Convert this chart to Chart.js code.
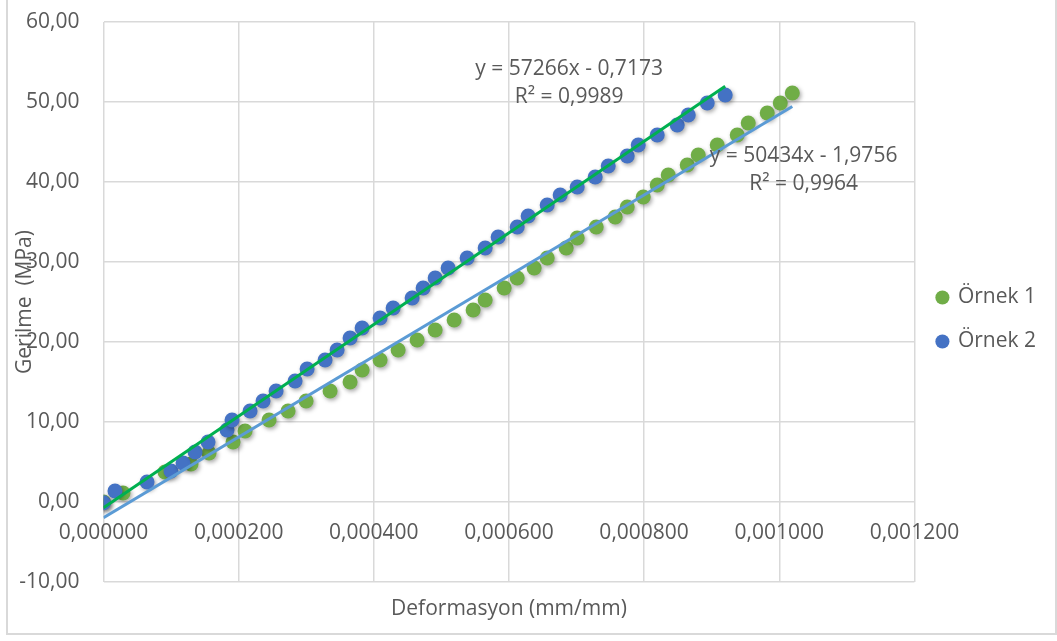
<!DOCTYPE html>
<html lang="tr">
<head>
<meta charset="utf-8">
<title>Gerilme - Deformasyon</title>
<script src="https://cdn.jsdelivr.net/npm/chart.js@4.4.1/dist/chart.umd.min.js"></script>
<style>
  html, body { margin: 0; padding: 0; background: #fff; }
  #wrap { position: relative; width: 1057px; height: 641px; overflow: hidden; }
  #frame { position: absolute; left: 6px; top: -2px; width: 1051px; height: 637px; border: 2px solid #d9d9d9; box-sizing: border-box; pointer-events: none; }
  canvas { position: absolute; left: 0; top: 0; }
</style>
</head>
<body>
<div id="wrap">
  <canvas id="stressChart" width="1057" height="641"></canvas>
  <div id="frame"></div>
</div>
<script>
// Örnek 1 (green markers)
const ornek1Strain = [0, 0.0000289, 0.0000910, 0.0001295, 0.0001562, 0.0001917, 0.0002095, 0.0002450,
    0.0002731, 0.0002998, 0.0003353, 0.0003649, 0.0003827, 0.0004093, 0.0004360, 0.0004641, 0.0004908,
    0.0005189, 0.0005470, 0.0005648, 0.0005929, 0.0006122, 0.0006373, 0.0006566, 0.0006847, 0.0007010,
    0.0007291, 0.0007572, 0.0007750, 0.0007987, 0.0008194, 0.0008357, 0.0008638, 0.0008801, 0.0009082,
    0.0009378, 0.0009541, 0.0009822, 0.0010015, 0.0010193];
const ornek1Stress = [0, 1.13, 3.75, 4.75, 6.13, 7.50, 8.88, 10.25,
    11.38, 12.63, 13.88, 15.00, 16.50, 17.75, 19.00, 20.25, 21.50,
    22.75, 24.00, 25.25, 26.75, 28.00, 29.25, 30.50, 31.75, 33.00,
    34.38, 35.63, 36.88, 38.13, 39.63, 40.88, 42.13, 43.38, 44.63,
    45.88, 47.38, 48.63, 49.88, 51.13];

// Örnek 2 (blue markers)
const ornek2Strain = [0, 0.0000170, 0.0000644, 0.0000999, 0.0001177, 0.0001355, 0.0001547, 0.0001828,
    0.0001902, 0.0002169, 0.0002361, 0.0002554, 0.0002835, 0.0003013, 0.0003279, 0.0003457, 0.0003649,
    0.0003827, 0.0004093, 0.0004286, 0.0004567, 0.0004730, 0.0004908, 0.0005100, 0.0005381, 0.0005648,
    0.0005840, 0.0006122, 0.0006284, 0.0006566, 0.0006758, 0.0007010, 0.0007276, 0.0007469, 0.0007750,
    0.0007913, 0.0008194, 0.0008490, 0.0008653, 0.0008934, 0.0009200];
const ornek2Stress = [-0.1, 1.38, 2.50, 3.88, 4.88, 6.25, 7.50, 9.00,
    10.25, 11.38, 12.63, 13.88, 15.13, 16.63, 17.75, 19.00, 20.50,
    21.75, 23.00, 24.25, 25.50, 26.75, 28.00, 29.25, 30.50, 31.75,
    33.13, 34.38, 35.75, 37.13, 38.38, 39.38, 40.63, 42.00, 43.25,
    44.63, 45.88, 47.13, 48.38, 49.88, 50.88];

const seriesNames = ['Örnek 1', 'Örnek 2'];

// linear trendlines as printed on the chart
const trendSlopes = [50434, 57266];
const trendIntercepts = [-1.9756, -0.7173];
const trendEquations = ['y = 50434x - 1,9756', 'y = 57266x - 0,7173'];
const trendR2 = ['R² = 0,9964', 'R² = 0,9989'];

const xTickValues = [0, 0.0002, 0.0004, 0.0006, 0.0008, 0.0010, 0.0012];
const xTickLabels = ['0,000000', '0,000200', '0,000400', '0,000600', '0,000800', '0,001000', '0,001200'];
const yTickValues = [-10, 0, 10, 20, 30, 40, 50, 60];
const yTickLabels = ['-10,00', '0,00', '10,00', '20,00', '30,00', '40,00', '50,00', '60,00'];

const xTitle = 'Deformasyon (mm/mm)';
const yTitle = 'Gerilme  (MPa)';

const fontFamily = '"Open Sans", "Noto Sans", sans-serif';
const textColor = '#595959';
const gridColor = '#d9d9d9';
const markerColors = ['#70ad47', '#4472c4'];
const trendColors = ['#5b9bd5', '#00b050'];

// where the equation boxes sit, in data units (centre of first line)
const trendLabelAnchors = [{ x: 0.001036, y: 43.25 }, { x: 0.000689, y: 54.1 }];

const toPoints = (xs, ys) => xs.map((x, i) => ({ x, y: ys[i] }));

function trendPoints(k, xs) {
    const xEnd = Math.max(...xs);
    return [
        { x: 0, y: trendIntercepts[k] },
        { x: xEnd, y: trendSlopes[k] * xEnd + trendIntercepts[k] }
    ];
}

// soft drop shadow under the markers, like the Excel original
const markerShadow = {
    id: 'markerShadow',
    beforeDatasetDraw(chart, args) {
        if (!chart.data.datasets[args.index].shadow) return;
        const ctx = chart.ctx;
        ctx.save();
        ctx.shadowColor = 'rgba(0, 0, 0, 0.35)';
        ctx.shadowBlur = 4;
        ctx.shadowOffsetX = 1.5;
        ctx.shadowOffsetY = 2;
    },
    afterDatasetDraw(chart, args) {
        if (chart.data.datasets[args.index].shadow) chart.ctx.restore();
    }
};

// x labels sit under the zero line, y title overlaps the tick labels, equation labels
const excelText = {
    id: 'excelText',
    afterDraw(chart) {
        const { ctx, chartArea, scales: { x, y } } = chart;
        ctx.save();
        ctx.fillStyle = textColor;
        ctx.font = '21px ' + fontFamily;
        ctx.textAlign = 'center';
        ctx.textBaseline = 'middle';

        const y0 = y.getPixelForValue(0);
        xTickValues.forEach((v, i) => {
            ctx.fillText(xTickLabels[i], x.getPixelForValue(v), y0 + 31);
        });

        trendLabelAnchors.forEach((a, k) => {
            const px = x.getPixelForValue(a.x);
            const py = y.getPixelForValue(a.y);
            ctx.fillText(trendEquations[k], px, py);
            ctx.fillText(trendR2[k], px, py + 28);
        });

        ctx.translate(25, (chartArea.top + chartArea.bottom) / 2);
        ctx.rotate(-Math.PI / 2);
        ctx.fillText(yTitle, 0, 0);
        ctx.restore();
    }
};

const ctx = document.getElementById('stressChart').getContext('2d');
const stressChart = new Chart(ctx, {
    type: 'scatter',
    data: {
        datasets: [
            {
                label: seriesNames[0],
                data: toPoints(ornek1Strain, ornek1Stress),
                backgroundColor: markerColors[0],
                borderColor: markerColors[0],
                borderWidth: 0,
                pointRadius: 7.5,
                shadow: true,
                order: 4
            },
            {
                label: seriesNames[1],
                data: toPoints(ornek2Strain, ornek2Stress),
                backgroundColor: markerColors[1],
                borderColor: markerColors[1],
                borderWidth: 0,
                pointRadius: 7.5,
                shadow: true,
                order: 3
            },
            {
                label: 'trend1',
                type: 'line',
                data: trendPoints(0, ornek1Strain),
                borderColor: trendColors[0],
                borderWidth: 3,
                pointRadius: 0,
                fill: false,
                order: 2
            },
            {
                label: 'trend2',
                type: 'line',
                data: trendPoints(1, ornek2Strain),
                borderColor: trendColors[1],
                borderWidth: 3,
                pointRadius: 0,
                fill: false,
                order: 1
            }
        ]
    },
    options: {
        responsive: false,
        animation: false,
        events: [],
        layout: { padding: { left: 7, top: 7, right: 11, bottom: 9 } },
        scales: {
            x: {
                type: 'linear',
                min: 0,
                max: 0.0012,
                afterBuildTicks: scale => { scale.ticks = xTickValues.map(v => ({ value: v })); },
                afterFit: scale => { scale.height = 50; },
                ticks: { display: false },
                grid: { color: gridColor, lineWidth: 1.5, drawTicks: false },
                border: { display: false },
                title: {
                    display: true,
                    text: xTitle,
                    color: textColor,
                    font: { family: fontFamily, size: 21 },
                    padding: { top: 0, bottom: 10 }
                }
            },
            y: {
                type: 'linear',
                min: -10,
                max: 60,
                afterBuildTicks: scale => { scale.ticks = yTickValues.map(v => ({ value: v })); },
                afterFit: scale => {
                    scale.width = 96.5;
                    // tick padding would otherwise push the plot top down
                    scale.paddingTop = 22;
                    scale.paddingBottom = 15;
                },
                ticks: {
                    color: textColor,
                    font: { family: fontFamily, size: 21 },
                    padding: 24,
                    callback: (v, i) => yTickLabels[i]
                },
                grid: { color: gridColor, lineWidth: 1.5, drawTicks: false },
                border: { display: false }
            }
        },
        plugins: {
            legend: {
                position: 'right',
                labels: {
                    usePointStyle: true,
                    pointStyle: 'circle',
                    boxWidth: 10,
                    boxHeight: 10,
                    padding: 23,
                    color: textColor,
                    font: { family: fontFamily, size: 21 },
                    filter: item => seriesNames.includes(item.text),
                    sort: (a, b) => a.datasetIndex - b.datasetIndex
                }
            },
            tooltip: { enabled: false }
        }
    },
    plugins: [markerShadow, excelText]
});
</script>
</body>
</html>
